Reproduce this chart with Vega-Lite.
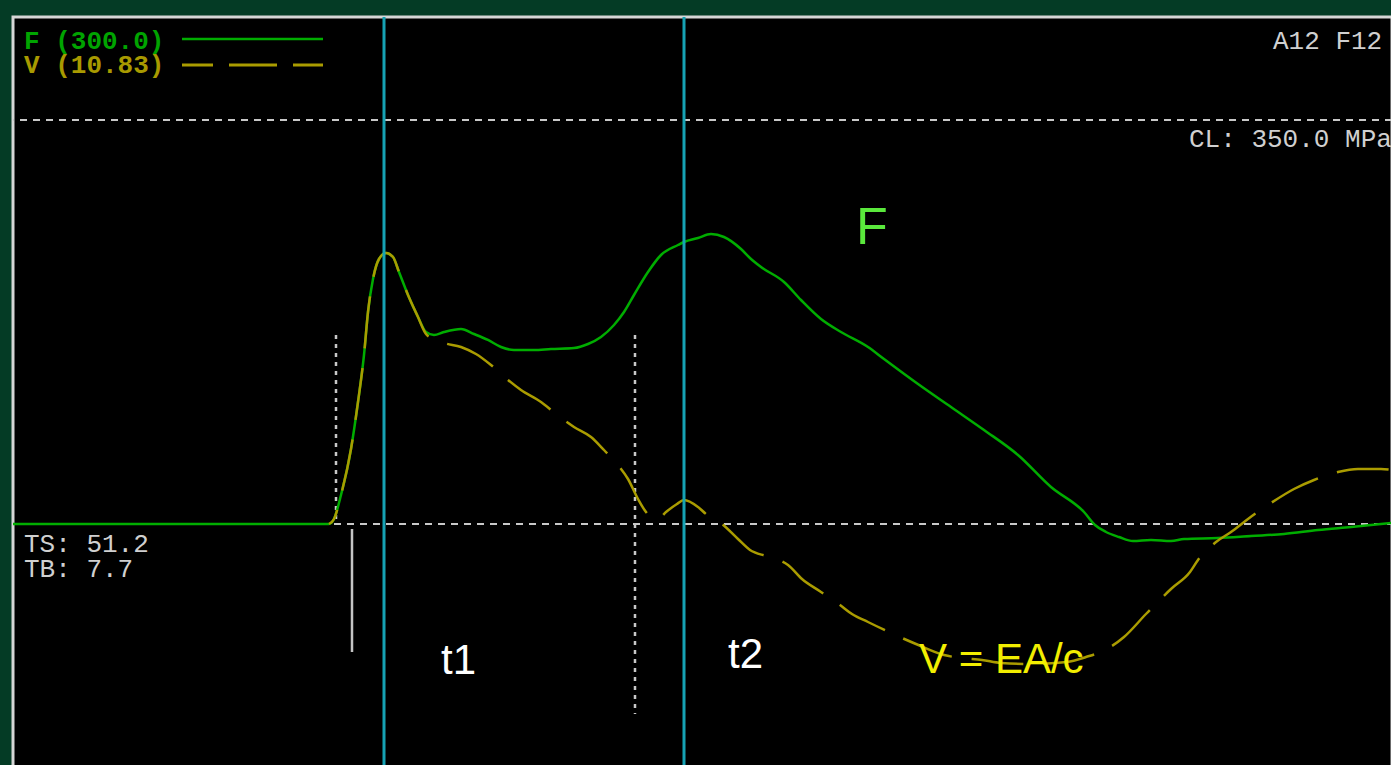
{
  "$schema": "https://vega.github.io/schema/vega-lite/v6.json",
  "width": 1379,
  "height": 750,
  "padding": {"left": 12, "top": 15, "right": 0, "bottom": 0},
  "background": "#043b25",
  "config": {"view": {"fill": "#000000", "stroke": "#d6d6d6", "strokeWidth": 3}},
  "datasets": {
    "force": [
      {"t": 0, "s": 0}, {"t": 12.64, "s": 0}, {"t": 12.84, "s": 4.33}, {"t": 13.12, "s": 25.12},
      {"t": 13.52, "s": 64.98}, {"t": 13.8, "s": 105.69}, {"t": 14.04, "s": 146.41}, {"t": 14.2, "s": 183.66},
      {"t": 14.4, "s": 212.25}, {"t": 14.64, "s": 229.58}, {"t": 14.92, "s": 234.78}, {"t": 15.2, "s": 231.31},
      {"t": 15.44, "s": 218.32}, {"t": 15.8, "s": 198.39}, {"t": 16.2, "s": 179.33}, {"t": 16.52, "s": 166.34},
      {"t": 16.84, "s": 163.74}, {"t": 17.24, "s": 166.34}, {"t": 17.92, "s": 168.94}, {"t": 18.44, "s": 164.6},
      {"t": 19.0, "s": 159.41}, {"t": 19.52, "s": 153.34}, {"t": 20.04, "s": 150.74}, {"t": 20.84, "s": 150.74},
      {"t": 21.52, "s": 151.61}, {"t": 22.44, "s": 152.48}, {"t": 23.0, "s": 155.94}, {"t": 23.52, "s": 162.01},
      {"t": 24.04, "s": 172.4}, {"t": 24.44, "s": 183.66}, {"t": 24.84, "s": 198.39}, {"t": 25.4, "s": 218.32},
      {"t": 25.92, "s": 233.04}, {"t": 26.6, "s": 241.71}, {"t": 26.84, "s": 244.31}, {"t": 27.4, "s": 247.77},
      {"t": 27.92, "s": 251.24}, {"t": 28.44, "s": 248.64}, {"t": 29.12, "s": 238.24}, {"t": 29.52, "s": 229.58},
      {"t": 29.92, "s": 222.65}, {"t": 30.84, "s": 209.65}, {"t": 31.52, "s": 194.06}, {"t": 32.32, "s": 177.6},
      {"t": 33.12, "s": 166.34}, {"t": 34.2, "s": 153.34}, {"t": 34.84, "s": 142.95}, {"t": 36.2, "s": 121.29},
      {"t": 37.52, "s": 101.36}, {"t": 38.84, "s": 81.44}, {"t": 40.2, "s": 59.78}, {"t": 41.52, "s": 32.05},
      {"t": 42.84, "s": 10.4}, {"t": 43.28, "s": -0.87}, {"t": 43.72, "s": -6.93}, {"t": 44.24, "s": -11.26},
      {"t": 44.8, "s": -14.73}, {"t": 45.52, "s": -13.86}, {"t": 46.32, "s": -14.73}, {"t": 46.84, "s": -13.0},
      {"t": 48.2, "s": -12.13}, {"t": 49.52, "s": -10.4}, {"t": 50.84, "s": -8.66}, {"t": 52.2, "s": -5.2},
      {"t": 53.52, "s": -2.6}, {"t": 55.16, "s": 0.87}
    ],
    "velocity": [
      {"t": 12.64, "s": 0}, {"t": 12.84, "s": 4.33}, {"t": 13.12, "s": 25.12}, {"t": 13.52, "s": 64.98},
      {"t": 13.8, "s": 105.69}, {"t": 14.04, "s": 146.41}, {"t": 14.2, "s": 183.66}, {"t": 14.4, "s": 212.25},
      {"t": 14.64, "s": 229.58}, {"t": 14.92, "s": 234.78}, {"t": 15.2, "s": 231.31}, {"t": 15.44, "s": 218.32},
      {"t": 15.8, "s": 198.39}, {"t": 16.2, "s": 179.33}, {"t": 16.52, "s": 164.6}, {"t": 16.84, "s": 160.27},
      {"t": 17.24, "s": 156.81}, {"t": 17.92, "s": 153.34}, {"t": 18.52, "s": 147.28}, {"t": 19.12, "s": 137.75},
      {"t": 19.8, "s": 124.75}, {"t": 20.32, "s": 116.09}, {"t": 21.12, "s": 105.69}, {"t": 21.72, "s": 95.3},
      {"t": 22.44, "s": 84.03}, {"t": 23.12, "s": 75.37}, {"t": 23.64, "s": 64.11}, {"t": 24.2, "s": 51.11},
      {"t": 24.6, "s": 38.99}, {"t": 25.0, "s": 21.66}, {"t": 25.32, "s": 10.4}, {"t": 25.52, "s": 6.06},
      {"t": 25.8, "s": 4.33}, {"t": 26.12, "s": 10.4}, {"t": 26.56, "s": 17.33}, {"t": 26.84, "s": 20.79},
      {"t": 27.4, "s": 14.73}, {"t": 27.72, "s": 8.66}, {"t": 28.36, "s": 0}, {"t": 29.0, "s": -13.0},
      {"t": 29.48, "s": -22.52}, {"t": 30.12, "s": -27.72}, {"t": 30.64, "s": -31.19}, {"t": 31.0, "s": -35.52},
      {"t": 31.56, "s": -47.65}, {"t": 32.32, "s": -58.91}, {"t": 33.08, "s": -70.17}, {"t": 33.56, "s": -77.97},
      {"t": 34.2, "s": -84.9}, {"t": 35.12, "s": -94.43}, {"t": 36.12, "s": -103.96}, {"t": 37.24, "s": -113.49},
      {"t": 37.92, "s": -116.09}, {"t": 38.76, "s": -117.82}, {"t": 39.52, "s": -120.42}, {"t": 40.72, "s": -121.29},
      {"t": 42.16, "s": -119.55}, {"t": 42.92, "s": -115.22}, {"t": 43.68, "s": -109.16}, {"t": 44.44, "s": -97.9},
      {"t": 45.32, "s": -77.97}, {"t": 46.32, "s": -56.31}, {"t": 47.08, "s": -41.58}, {"t": 47.4, "s": -31.19},
      {"t": 48.12, "s": -15.59}, {"t": 48.72, "s": -6.93}, {"t": 49.4, "s": 4.33}, {"t": 50.32, "s": 18.19},
      {"t": 51.24, "s": 30.32}, {"t": 52.04, "s": 38.12}, {"t": 53.0, "s": 45.05}, {"t": 53.8, "s": 47.65},
      {"t": 54.72, "s": 47.65}, {"t": 55.16, "s": 46.78}
    ]
  },
  "encoding": {
    "x": {"field": "t", "type": "quantitative", "scale": {"domain": [0, 55.16], "nice": false, "zero": false}, "axis": null},
    "y": {"field": "s", "type": "quantitative", "scale": {"domain": [-210.52, 439.23], "nice": false, "zero": false}, "axis": null}
  },
  "layer": [
    {
      "data": {"values": [{"s": 350}]},
      "mark": {"type": "rule", "color": "#c8c8c8", "strokeWidth": 2, "strokeDash": [7, 6]},
      "encoding": {"x": null}
    },
    {
      "data": {"values": [{"t": 12.84, "t2": 55.16, "s": 0}]},
      "mark": {"type": "rule", "color": "#c8c8c8", "strokeWidth": 2, "strokeDash": [7, 6]},
      "encoding": {"x2": {"field": "t2"}}
    },
    {
      "data": {"values": [{"t": 12.92, "s": 163.74, "s2": 1.73}, {"t": 24.88, "s": 163.74, "s2": -164.6}]},
      "mark": {"type": "rule", "color": "#c8c8c8", "strokeWidth": 2.5, "strokeDash": [4, 5]},
      "encoding": {"y2": {"field": "s2"}}
    },
    {
      "data": {"values": [{"t": 13.56, "s": -4.33, "s2": -110.89}]},
      "mark": {"type": "rule", "color": "#c4c4c4", "strokeWidth": 2.5},
      "encoding": {"y2": {"field": "s2"}}
    },
    {
      "data": {"name": "force"},
      "mark": {"type": "line", "color": "#00ad00", "strokeWidth": 2.5, "interpolate": "monotone", "clip": true},
      "encoding": {}
    },
    {
      "data": {"name": "velocity"},
      "mark": {"type": "line", "color": "#aa9c00", "strokeWidth": 2.5, "interpolate": "monotone", "strokeDash": [52, 20], "strokeDashOffset": 35, "clip": true},
      "encoding": {}
    },
    {
      "data": {"values": [{"t": 14.84}, {"t": 26.84}]},
      "mark": {"type": "rule", "color": "#16a2b4", "strokeWidth": 3},
      "encoding": {"y": null}
    },
    {
      "data": {"values": [{"t": 6.76, "t2": 12.4, "s": 420.17}]},
      "mark": {"type": "rule", "color": "#00ad00", "strokeWidth": 2.5},
      "encoding": {"x2": {"field": "t2"}}
    },
    {
      "data": {"values": [{"t": 6.76, "t2": 12.4, "s": 397.65}]},
      "mark": {"type": "rule", "color": "#aa9c00", "strokeWidth": 3, "strokeDash": [48, 16], "strokeDashOffset": 17},
      "encoding": {"x2": {"field": "t2"}}
    },
    {
      "data": {"values": [{"t": 0.44, "s": 411.51, "label": "F (300.0)"}]},
      "mark": {"type": "text", "font": "Liberation Mono", "fontSize": 26, "fontWeight": "bold", "color": "#00a400", "align": "left", "baseline": "alphabetic"},
      "encoding": {"text": {"field": "label"}}
    },
    {
      "data": {"values": [{"t": 0.44, "s": 390.72, "label": "V (10.83)"}]},
      "mark": {"type": "text", "font": "Liberation Mono", "fontSize": 26, "fontWeight": "bold", "color": "#a89a00", "align": "left", "baseline": "alphabetic"},
      "encoding": {"text": {"field": "label"}}
    },
    {
      "data": {"values": [
        {"t": 50.4, "s": 411.51, "label": "A12 F12"},
        {"t": 47.04, "s": 326.61, "label": "CL: 350.0 MPa"},
        {"t": 0.44, "s": -24.26, "label": "TS: 51.2"},
        {"t": 0.44, "s": -45.92, "label": "TB: 7.7"}
      ]},
      "mark": {"type": "text", "font": "Liberation Mono", "fontSize": 26, "color": "#d0d0d0", "align": "left", "baseline": "alphabetic"},
      "encoding": {"text": {"field": "label"}}
    },
    {
      "data": {"values": [
        {"t": 17.12, "s": -129.95, "label": "t1"},
        {"t": 28.6, "s": -124.75, "label": "t2"}
      ]},
      "mark": {"type": "text", "font": "Liberation Sans", "fontSize": 42, "color": "#ffffff", "align": "left", "baseline": "alphabetic"},
      "encoding": {"text": {"field": "label"}}
    },
    {
      "data": {"values": [{"t": 36.24, "s": -129.08, "label": "V = EA/c"}]},
      "mark": {"type": "text", "font": "Liberation Sans", "fontSize": 42, "color": "#f2ee00", "align": "left", "baseline": "alphabetic"},
      "encoding": {"text": {"field": "label"}}
    },
    {
      "data": {"values": [{"t": 33.72, "s": 242.57, "label": "F"}]},
      "mark": {"type": "text", "font": "Liberation Sans", "fontSize": 52, "color": "#5ae83c", "align": "left", "baseline": "alphabetic"},
      "encoding": {"text": {"field": "label"}}
    }
  ]
}
